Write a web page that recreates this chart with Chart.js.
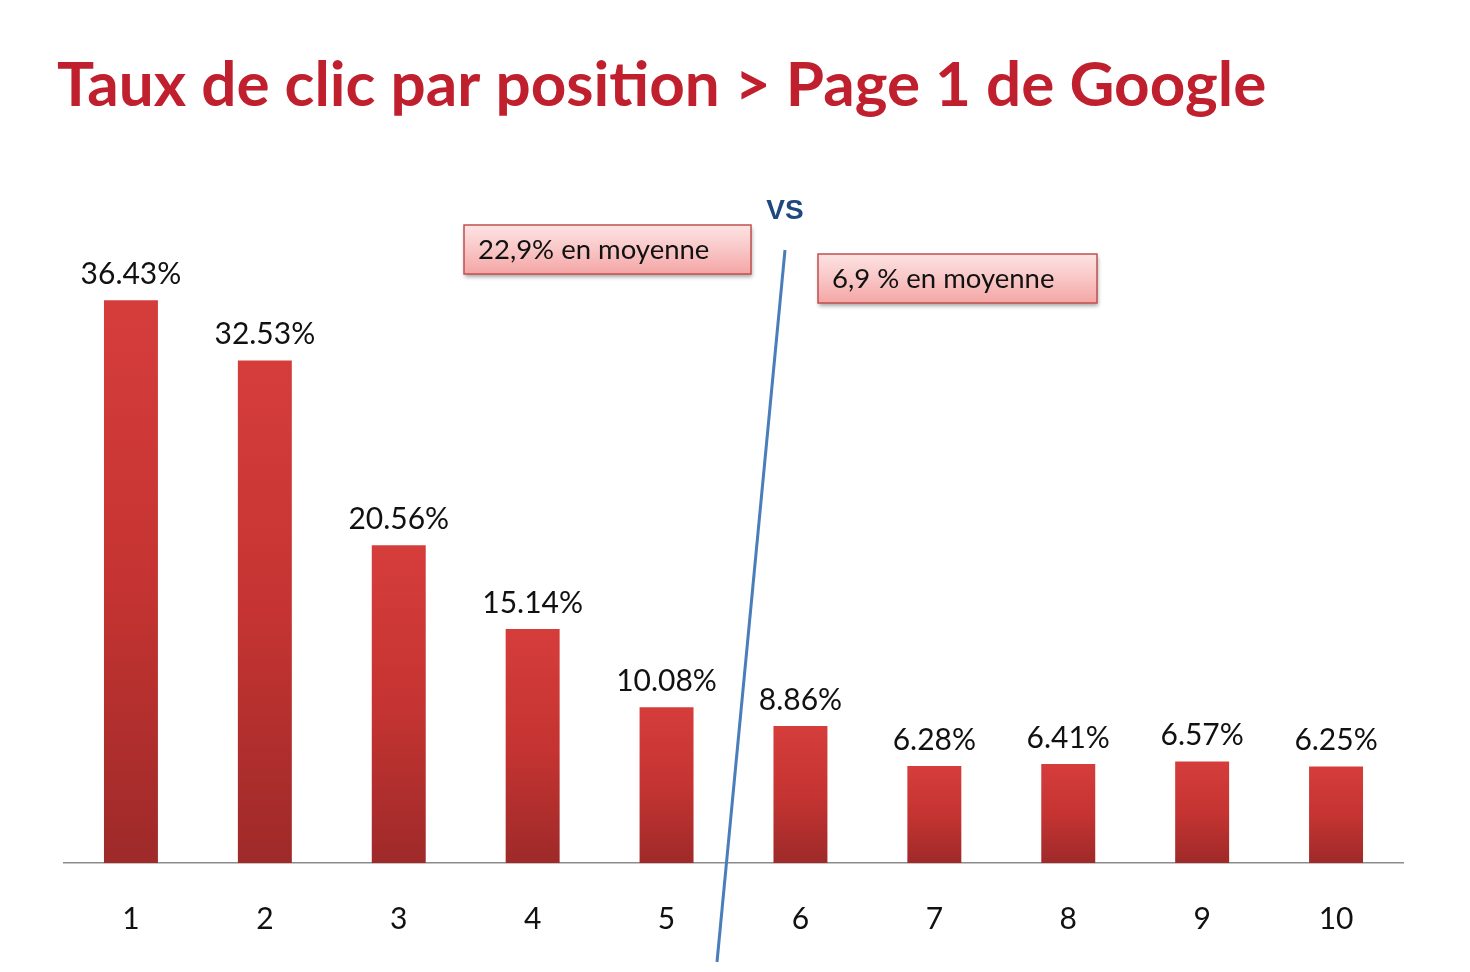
<!DOCTYPE html>
<html lang="fr">
<head>
<meta charset="utf-8">
<title>Taux de clic par position</title>
<script src="https://cdn.jsdelivr.net/npm/chart.js@4.4.1/dist/chart.umd.min.js"></script>
<style>
  html, body { margin: 0; padding: 0; background: #ffffff; overflow: hidden; }
  #wrap { width: 1470px; height: 972px; }
</style>
</head>
<body>
<div id="wrap"><canvas id="ctrChart" width="1470" height="972"></canvas></div>
<script>
const titre = 'Taux de clic par position > Page 1 de Google';
const positions = ['1', '2', '3', '4', '5', '6', '7', '8', '9', '10'];
const tauxClic = [36.43, 32.53, 20.56, 15.14, 10.08, 8.86, 6.28, 6.41, 6.57, 6.25];
const moyennes = ['22,9% en moyenne', '6,9 % en moyenne'];
const separateur = 'VS';
const yMax = 40;

const POLICE = 'Lato, "Open Sans", sans-serif';

// Dégradé rouge par barre (clair en haut, foncé en bas)
function couleurBarre(context) {
    const chart = context.chart;
    const { ctx, chartArea, scales } = chart;
    if (!chartArea) return '#c83533';
    const top = scales.y.getPixelForValue(tauxClic[context.dataIndex]);
    const g = ctx.createLinearGradient(0, top, 0, chartArea.bottom);
    g.addColorStop(0, '#d53d3b');
    g.addColorStop(0.5, '#c53432');
    g.addColorStop(1, '#9e2a29');
    return g;
}

// Valeurs au-dessus des barres
const etiquettes = {
    id: 'etiquettes',
    afterDatasetsDraw(chart) {
        const ctx = chart.ctx;
        const meta = chart.getDatasetMeta(0);
        ctx.save();
        ctx.font = '30px ' + POLICE;
        ctx.fillStyle = '#111';
        ctx.textAlign = 'center';
        ctx.textBaseline = 'middle';
        meta.data.forEach((bar, i) => {
            ctx.fillText(tauxClic[i].toFixed(2) + '%', bar.x, bar.y - 26);
        });
        ctx.restore();
    }
};

function boite(ctx, x, y, w, h, texte) {
    ctx.save();
    ctx.shadowColor = 'rgba(0,0,0,0.35)';
    ctx.shadowBlur = 4;
    ctx.shadowOffsetX = 1;
    ctx.shadowOffsetY = 3;
    const g = ctx.createLinearGradient(0, y, 0, y + h);
    g.addColorStop(0, '#fde3e3');
    g.addColorStop(0.5, '#f9c6c6');
    g.addColorStop(1, '#f4a5a5');
    ctx.fillStyle = g;
    ctx.fillRect(x, y, w, h);
    ctx.restore();
    ctx.save();
    ctx.strokeStyle = '#c0504d';
    ctx.lineWidth = 1.5;
    ctx.strokeRect(x, y, w, h);
    ctx.font = '27.5px ' + POLICE;
    ctx.fillStyle = '#111';
    ctx.textBaseline = 'middle';
    ctx.fillText(texte, x + 14, y + h / 2 + 1);
    ctx.restore();
}

// Titre, encadrés, "VS" et trait de séparation
const decor = {
    id: 'decor',
    afterDraw(chart) {
        const ctx = chart.ctx;
        ctx.save();
        ctx.font = 'bold 62px ' + POLICE;
        ctx.fillStyle = '#c0202e';
        ctx.textBaseline = 'alphabetic';
        ctx.fillText(titre, 57, 106);

        ctx.font = 'bold 28px Arial, "Liberation Sans", sans-serif';
        ctx.fillStyle = '#1f497d';
        ctx.textAlign = 'center';
        ctx.textBaseline = 'middle';
        ctx.fillText(separateur, 785, 211);
        ctx.restore();

        boite(ctx, 464, 225, 287, 49, moyennes[0]);
        boite(ctx, 818, 254, 279, 49, moyennes[1]);

        ctx.save();
        ctx.strokeStyle = '#4a7ebb';
        ctx.lineWidth = 3;
        ctx.beginPath();
        ctx.moveTo(785, 250);
        ctx.lineTo(717, 962);
        ctx.stroke();
        ctx.restore();
    }
};

new Chart(document.getElementById('ctrChart'), {
    type: 'bar',
    data: {
        labels: positions,
        datasets: [{
            data: tauxClic,
            backgroundColor: couleurBarre,
            borderWidth: 0,
            barPercentage: 0.5,
            categoryPercentage: 0.806
        }]
    },
    options: {
        responsive: false,
        animation: false,
        devicePixelRatio: 1,
        layout: { padding: { top: 245, left: 64, right: 67, bottom: -3 } },
        plugins: {
            legend: { display: false },
            tooltip: { enabled: false },
            title: { display: false }
        },
        scales: {
            y: {
                display: false,
                min: 0,
                max: yMax
            },
            x: {
                grid: { display: false, drawTicks: false },
                border: { display: true, color: '#8c8c8c', width: 1.5 },
                ticks: {
                    color: '#111',
                    font: { family: POLICE, size: 30 },
                    padding: 38
                }
            }
        }
    },
    plugins: [etiquettes, decor]
});
</script>
</body>
</html>
